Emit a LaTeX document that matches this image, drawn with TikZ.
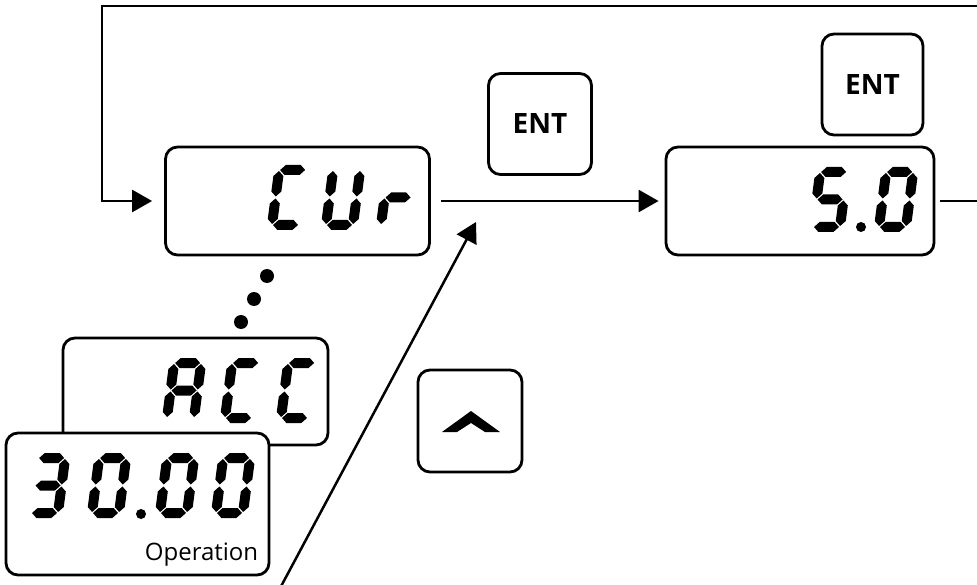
\documentclass[tikz,border=0pt]{standalone}
\usepackage{fontspec}
\setsansfont{Open Sans}
\usetikzlibrary{arrows.meta, calc}

% --- seven-segment glyphs (local units: x right, y up) ---
\newcommand\lcdG{1}
\newcommand\lcdT{5}
\newcommand\lcdhseg[3]{\fill (#1+\lcdG,#3) -- (#1+\lcdG+\lcdT,#3+\lcdT) -- (#2-\lcdG-\lcdT,#3+\lcdT)
    -- (#2-\lcdG,#3) -- (#2-\lcdG-\lcdT,#3-\lcdT) -- (#1+\lcdG+\lcdT,#3-\lcdT) -- cycle;}
\newcommand\lcdvseg[3]{\fill (#1,#2+\lcdG) -- (#1+\lcdT,#2+\lcdG+\lcdT) -- (#1+\lcdT,#3-\lcdG-\lcdT)
    -- (#1,#3-\lcdG) -- (#1-\lcdT,#3-\lcdG-\lcdT) -- (#1-\lcdT,#2+\lcdG+\lcdT) -- cycle;}
\newcommand\lcdsega{\lcdhseg{0}{27}{55}}
\newcommand\lcdsegb{\lcdvseg{27}{27.5}{55}}
\newcommand\lcdsegc{\lcdvseg{27}{0}{27.5}}
\newcommand\lcdsegd{\lcdhseg{0}{27}{0}}
\newcommand\lcdsege{\lcdvseg{0}{0}{27.5}}
\newcommand\lcdsegf{\lcdvseg{0}{27.5}{55}}
\newcommand\lcdsegg{\lcdhseg{0}{27}{27.5}}
\newcommand\lcdchar[3]{%
    \begin{scope}[shift={(#1,#2)}, xslant=0.13, yscale=-1]
        \foreach \s in {#3} {\csname lcdseg\s\endcsname}
    \end{scope}}

\begin{document}
\begin{tikzpicture}[
    x=1pt, y=-1pt,
    % --- Node styles ---
    lcd/.style={
        draw, fill=white, rounded corners=12pt, line width=2.8pt,
        inner sep=0pt, minimum width=264pt, minimum height=108pt
    },
    key/.style={
        draw, fill=white, rounded corners=12pt, line width=2.8pt,
        inner sep=0pt, minimum width=103pt, minimum height=101pt,
        font=\fontsize{28}{28}\selectfont\sffamily\bfseries
    },
    % --- Arrow styles ---
    arr/.style={-{Triangle[length=20pt, width=22pt]}, line width=2.5pt},
    wire/.style={line width=2.5pt},
    % --- Annotation styles ---
    modelbl/.style={font=\fontsize{24}{24}\selectfont\sffamily, inner sep=0pt},
]

\useasboundingbox (0,0) rectangle (977,585);
\clip (0,0) rectangle (977,585);

% =============================================
% DISPLAYS
% =============================================

\node[lcd] (cur) at (297.5, 201) {};
\node[lcd, minimum width=268pt] (five) at (800, 201) {};

% stacked displays, lower left
\node[lcd, minimum width=265pt, minimum height=107pt] (acc) at (195.5, 391.5) {};
\node[lcd, minimum width=263pt, minimum height=142pt] (op) at (137.5, 504) {};
\node[modelbl, anchor=base east] (oplbl) at ($(op.south east) + (-12, -16)$) {Operation};

% =============================================
% KEYS
% =============================================

\node[key] (ent1) at (540, 124) {ENT};
\node[key, minimum width=101pt] (ent2) at (872.5, 84.5) {ENT};
\node[key, minimum width=104pt, minimum height=102pt] (up) at (470, 421) {};
\fill ($(up.center) + (1, -10)$) -- ++(-29, 21) -- ++(15, 0) -- ++(14, -9)
    -- ++(14, 9) -- ++(15, 0) -- cycle;

% =============================================
% READOUTS
% =============================================

% CUr
\lcdchar{272}{225}{a,d,e,f}
\lcdchar{326}{225}{b,c,d,e,f}
\lcdchar{381}{225}{e,g}

% 5.0
\lcdchar{813}{227}{a,c,d,f,g}
\fill (861, 227) circle (5pt);
\lcdchar{879}{227}{a,b,c,d,e,f}

% ACC
\lcdchar{167}{418}{a,b,c,e,f,g}
\lcdchar{225}{418}{a,d,e,f}
\lcdchar{281}{418}{a,d,e,f}

% 30.00
\lcdchar{31}{513}{a,b,c,d,g}
\lcdchar{92}{513}{a,b,c,d,e,f}
\fill (141, 514) circle (5pt);
\lcdchar{160}{513}{a,b,c,d,e,f}
\lcdchar{216}{513}{a,b,c,d,e,f}

% more items between ACC and CUr
\foreach \i/\px/\py in {1/267/276, 2/254/299, 3/241/322}
    \fill (\px, \py) circle (7pt);

% =============================================
% ARROWS
% =============================================

\coordinate (loopR) at (990, 6);
\coordinate (loopL) at (102, 6);
\coordinate (exitR) at (990, 201);
\coordinate (upfoot) at (278, 592);
\coordinate (uptip) at (476, 222);

% return loop over the top
\draw[arr, shorten >=12pt] (loopR) -- (loopL) |- (cur.west);

% CUr to 5.0
\draw[arr, shorten <=10pt, shorten >=6pt] (cur.east) -- (five.west);

% 5.0 out to the right
\draw[wire, shorten <=5pt] (five.east) -- (five.east -| exitR);

% up key from Operation
\draw[arr] (upfoot) -- (uptip);

\end{tikzpicture}
\end{document}
